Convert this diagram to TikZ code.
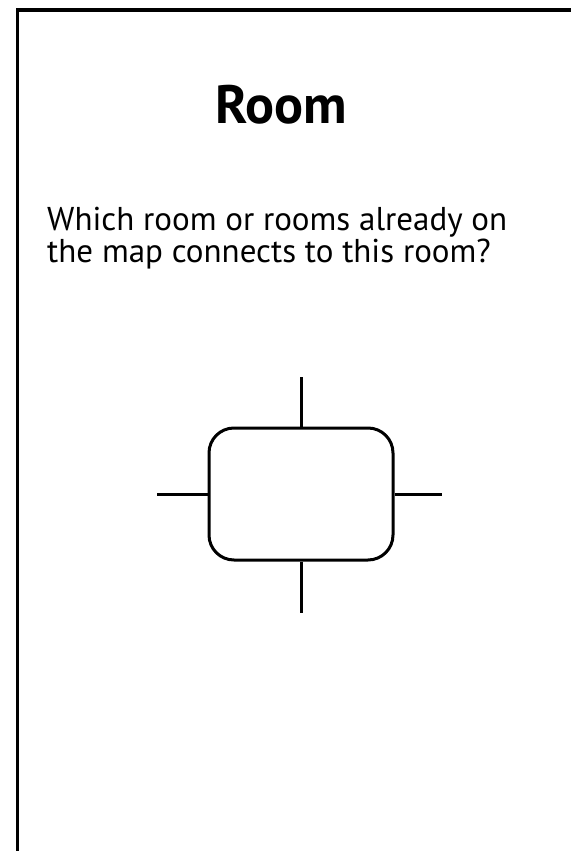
\documentclass[tikz,border=0pt]{standalone}
\usepackage{fontspec}
\setmainfont{PT Sans}
\usetikzlibrary{positioning}
\tikzset{
  card/.style={line width=3.5pt,draw=black},
  roombox/.style={draw=black,line width=3pt,rounded corners=25pt,minimum width=184pt,minimum height=132pt,inner sep=0pt},
  stub/.style={line width=3pt,draw=black},
  ttl/.style={font=\fontsize{54}{58}\selectfont\bfseries,inner sep=0pt},
  ask/.style={font=\fontsize{33}{30}\selectfont,align=left,inner sep=0pt},
}
\begin{document}
\begin{tikzpicture}[x=1pt,y=-1pt]
  \useasboundingbox (0,0) rectangle (571,851);
  % card edge
  \draw[card] (17.5,851) -- (17.5,9.8) -- (571,9.8);
  % texts
  \node[ttl,anchor=base] (title) at (281,123) {Room};
  \node[ask,anchor=base west] (ask) at (47,262) {Which room or rooms already on\\the map connects to this room?};
  % room with its four doors
  \node[roombox] (room) at (301,494) {};
  \coordinate (dn) at (301,377);
  \coordinate (ds) at (301,613);
  \coordinate (dw) at (157,494);
  \coordinate (de) at (442,494);
  \draw[stub] (room.north) -- (dn);
  \draw[stub] (room.south) -- (ds);
  \draw[stub] (room.west) -- (dw);
  \draw[stub] (room.east) -- (de);
\end{tikzpicture}
\end{document}
